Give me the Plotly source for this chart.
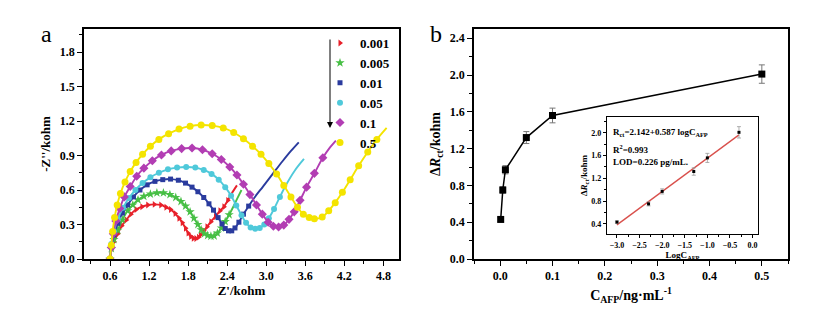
import numpy as np
import plotly.graph_objects as go

# ---------------- Panel a: Nyquist plots ----------------
conc_labels = ["0.001", "0.005", "0.01", "0.05", "0.1", "0.5"]

z_re_0001 = [0.60, 0.62, 0.66, 0.72, 0.78, 0.85, 0.92, 1.00, 1.09, 1.18, 1.28, 1.38, 1.46, 1.53, 1.60, 1.66,
             1.71, 1.76, 1.80, 1.84, 1.88, 1.92, 1.96, 1.99, 2.04, 2.09, 2.15, 2.22, 2.29, 2.35, 2.41, 2.47, 2.55]
z_im_0001 = [0.00, 0.08, 0.15, 0.22, 0.29, 0.34, 0.39, 0.43, 0.455, 0.47, 0.475, 0.47, 0.45, 0.43, 0.395, 0.355,
             0.315, 0.267, 0.225, 0.195, 0.18, 0.178, 0.19, 0.21, 0.245, 0.28, 0.325, 0.37, 0.42, 0.455, 0.51, 0.57, 0.64]

z_re_0005 = [0.60, 0.62, 0.66, 0.72, 0.79, 0.87, 0.95, 1.03, 1.12, 1.22, 1.32, 1.42, 1.52, 1.61, 1.69, 1.76,
             1.83, 1.89, 1.95, 2.00, 2.05, 2.10, 2.15, 2.20, 2.25, 2.31, 2.37, 2.43, 2.49, 2.55, 2.62]
z_im_0005 = [0.00, 0.09, 0.17, 0.25, 0.34, 0.42, 0.47, 0.515, 0.545, 0.565, 0.575, 0.575, 0.56, 0.535, 0.50, 0.46,
             0.41, 0.355, 0.30, 0.255, 0.22, 0.205, 0.198, 0.20, 0.225, 0.27, 0.325, 0.385, 0.45, 0.52, 0.60]

z_re_001 = [0.60, 0.62, 0.66, 0.72, 0.79, 0.87, 0.96, 1.06, 1.17, 1.29, 1.41, 1.53, 1.65, 1.76, 1.86, 1.95, 2.04,
            2.12, 2.19, 2.26, 2.32, 2.37, 2.42, 2.47, 2.52, 2.58, 2.65, 2.73, 2.82, 2.95, 3.10, 3.25, 3.38, 3.50]
z_im_001 = [0.00, 0.11, 0.21, 0.31, 0.40, 0.47, 0.54, 0.60, 0.645, 0.675, 0.69, 0.695, 0.685, 0.66, 0.625, 0.585,
            0.535, 0.48, 0.425, 0.36, 0.305, 0.265, 0.245, 0.245, 0.27, 0.32, 0.39, 0.46, 0.535, 0.63, 0.74, 0.85,
            0.94, 1.015]

z_re_005 = [0.60, 0.62, 0.66, 0.72, 0.80, 0.89, 0.99, 1.10, 1.22, 1.35, 1.49, 1.63, 1.77, 1.91, 2.04, 2.16, 2.27,
            2.37, 2.46, 2.54, 2.62, 2.69, 2.76, 2.83, 2.90, 2.97, 3.04, 3.12, 3.21, 3.31, 3.44, 3.58]
z_im_005 = [0.00, 0.13, 0.24, 0.35, 0.445, 0.53, 0.60, 0.66, 0.71, 0.75, 0.78, 0.795, 0.80, 0.795, 0.775, 0.74,
            0.69, 0.625, 0.55, 0.465, 0.38, 0.315, 0.275, 0.262, 0.27, 0.30, 0.355, 0.435, 0.54, 0.65, 0.77, 0.87]

z_re_01 = [0.60, 0.62, 0.65, 0.69, 0.75, 0.82, 0.91, 1.01, 1.12, 1.25, 1.39, 1.54, 1.70, 1.86, 2.02, 2.17, 2.31,
           2.44, 2.55, 2.65, 2.75, 2.85, 2.94, 3.03, 3.11, 3.19, 3.27, 3.35, 3.43, 3.52, 3.62, 3.74, 3.87, 3.98, 4.07]
z_im_01 = [0.00, 0.10, 0.22, 0.33, 0.44, 0.54, 0.63, 0.72, 0.79, 0.855, 0.905, 0.94, 0.96, 0.965, 0.95, 0.915,
           0.865, 0.80, 0.73, 0.65, 0.56, 0.47, 0.39, 0.32, 0.285, 0.278, 0.295, 0.345, 0.41, 0.51, 0.625, 0.745,
           0.88, 0.97, 1.03]

z_re_05 = [0.60, 0.62, 0.64, 0.67, 0.71, 0.76, 0.83, 0.91, 1.00, 1.10, 1.22, 1.35, 1.50, 1.66, 1.83, 2.00, 2.17,
           2.34, 2.50, 2.65, 2.79, 2.92, 3.04, 3.16, 3.27, 3.38, 3.48, 3.57, 3.66, 3.74, 3.86, 3.96, 4.06, 4.17,
           4.29, 4.42, 4.56, 4.70, 4.85]
z_im_05 = [0.00, 0.12, 0.24, 0.36, 0.47, 0.57, 0.67, 0.76, 0.84, 0.91, 0.98, 1.04, 1.09, 1.13, 1.155, 1.165, 1.16,
           1.14, 1.10, 1.045, 0.98, 0.91, 0.83, 0.74, 0.64, 0.54, 0.45, 0.39, 0.36, 0.35, 0.365, 0.42, 0.49, 0.58,
           0.69, 0.81, 0.93, 1.04, 1.14]

a_x_ticks = [0.6, 1.2, 1.8, 2.4, 3.0, 3.6, 4.2, 4.8]

# ---------------- Panel b: calibration ----------------
c_afp = [0.001, 0.005, 0.01, 0.05, 0.1, 0.5]
delta_rct = [0.43, 0.75, 0.97, 1.32, 1.56, 2.01]
delta_rct_err = [0.02, 0.035, 0.045, 0.065, 0.08, 0.10]
fit_intercept = 2.142
fit_slope = 0.587
r_squared = "0.993"
lod_text = "0.226 pg/mL."

# ---------------- styling ----------------
W, H = 814, 314
FONT = "Liberation Serif, Times New Roman, serif"
BOLD = dict(family=FONT, color="black", weight=700)


def px_x(p):
    return p / W


def px_y(p):
    return 1 - p / H


def b(s):
    return "<b>" + s + "</b>"


series_style = [
    ("#e8202a", "triangle-right", 6, 2.45),
    ("#47bf45", "star", 7, 2.45),
    ("#2a3b9e", "square", 5, 2.8),
    ("#4fc9da", "circle", 6, 3.25),
    ("#b23db3", "diamond", 7, 3.9),
    ("#f4e400", "circle", 7, 4.75),
]
series_data = [
    (z_re_0001, z_im_0001), (z_re_0005, z_im_0005), (z_re_001, z_im_001),
    (z_re_005, z_im_005), (z_re_01, z_im_01), (z_re_05, z_im_05),
]

fig = go.Figure()

for label, (zr, zi), (col, sym, msz, cut) in zip(conc_labels, series_data, series_style):
    zr = np.array(zr)
    zi = np.array(zi)
    fig.add_trace(go.Scatter(x=zr, y=zi, mode="lines", line=dict(color=col, width=1.9, shape="spline"),
                             showlegend=False, hoverinfo="skip", xaxis="x", yaxis="y"))
    m = zr <= cut
    fig.add_trace(go.Scatter(x=zr[m], y=zi[m], mode="markers", name=b(label),
                             marker=dict(color=col, symbol=sym, size=msz, line=dict(width=0)),
                             xaxis="x", yaxis="y"))

# panel b main
fig.add_trace(go.Scatter(x=c_afp, y=delta_rct, mode="lines+markers",
                         line=dict(color="black", width=1.5),
                         marker=dict(color="black", symbol="square", size=7),
                         error_y=dict(type="data", array=delta_rct_err, color="#777", thickness=1, width=3),
                         showlegend=False, xaxis="x2", yaxis="y2"))

# inset
log_c = np.log10(np.array(c_afp))
fit_x = np.array([log_c.min(), log_c.max()])
fit_y = fit_intercept + fit_slope * fit_x
fig.add_trace(go.Scatter(x=fit_x, y=fit_y, mode="lines", line=dict(color="#d9504c", width=1.3),
                         showlegend=False, xaxis="x3", yaxis="y3"))
fig.add_trace(go.Scatter(x=log_c, y=delta_rct, mode="markers",
                         marker=dict(color="black", symbol="square", size=3),
                         error_y=dict(type="data", array=delta_rct_err, color="#999", thickness=0.8, width=2),
                         showlegend=False, xaxis="x3", yaxis="y3"))

axis_common = dict(showline=True, mirror=True, linecolor="black", linewidth=1.5, showgrid=False,
                   zeroline=False, ticks="outside", tickcolor="black", tickwidth=1.3, ticklen=5,
                   automargin=False, tickprefix="<b>", ticksuffix="</b>")
tickfont = dict(BOLD, size=12)
titlefont = dict(BOLD, size=13)

small_axis = dict(showline=True, mirror=True, linecolor="black", linewidth=1.2, showgrid=False,
                  zeroline=False, ticks="outside", tickcolor="black", tickwidth=1, ticklen=3,
                  automargin=False, tickprefix="<b>", ticksuffix="</b>")
small_tick = dict(BOLD, size=8)

fig.update_layout(
    width=W, height=H, margin=dict(l=0, r=0, t=0, b=0, autoexpand=False),
    paper_bgcolor="white", plot_bgcolor="white",
    xaxis=dict(axis_common, domain=[px_x(84), px_x(399)], range=[0.2, 5.04], anchor="y",
               tickvals=a_x_ticks, tickformat=".1f", tickfont=tickfont,
               minor=dict(ticks="outside", ticklen=3, tickwidth=1, tickcolor="black", tick0=0.3, dtick=0.3),
               title=dict(text=b("Z'/kohm"), font=titlefont, standoff=4)),
    yaxis=dict(axis_common, domain=[px_y(259), px_y(29)], range=[0, 2.0], anchor="x",
               tick0=0, dtick=0.3, tickformat=".1f", tickfont=tickfont,
               minor=dict(ticks="outside", ticklen=3, tickwidth=1, tickcolor="black", tick0=0, dtick=0.15),
               title=dict(text=b("-Z''/kohm"), font=titlefont, standoff=6)),
    xaxis2=dict(axis_common, domain=[px_x(474), px_x(788)], range=[-0.05, 0.55], anchor="y2",
                tick0=0, dtick=0.1, tickformat=".1f", tickfont=tickfont,
                minor=dict(ticks="outside", ticklen=3, tickwidth=1, tickcolor="black", tick0=0, dtick=0.05),
                title=dict(text=b("C<sub>AFP</sub>/ng·mL<sup>-1</sup>"), font=dict(BOLD, size=14), standoff=8)),
    yaxis2=dict(axis_common, domain=[px_y(259), px_y(29)], range=[0, 2.5], anchor="x2",
                tick0=0, dtick=0.4, tickformat=".1f", tickfont=tickfont,
                minor=dict(ticks="outside", ticklen=3, tickwidth=1, tickcolor="black", tick0=0, dtick=0.2),
                title=dict(text=b("Δ<i>R</i><sub>ct</sub>/kohm"), font=dict(BOLD, size=14), standoff=6)),
    xaxis3=dict(small_axis, domain=[px_x(607), px_x(758)], range=[-3.22, 0.12], anchor="y3",
                tick0=0, dtick=0.5, tickformat=".1f", tickfont=small_tick,
                minor=dict(ticks="outside", ticklen=2, tickwidth=0.8, tickcolor="black", tick0=0, dtick=0.25),
                title=dict(text=b("LogC<sub>AFP</sub>"), font=dict(BOLD, size=9), standoff=2)),
    yaxis3=dict(small_axis, domain=[px_y(234), px_y(117)], range=[0.22, 2.28], anchor="x3",
                tick0=0, dtick=0.4, tickformat=".1f", tickfont=small_tick,
                minor=dict(ticks="outside", ticklen=2, tickwidth=0.8, tickcolor="black", tick0=0, dtick=0.2),
                title=dict(text=b("Δ<i>R</i><sub>ct</sub>/kohm"), font=dict(BOLD, size=9), standoff=2)),
    legend=dict(x=px_x(320), y=px_y(28), xanchor="left", yanchor="top", bgcolor="rgba(0,0,0,0)",
                font=dict(BOLD, size=13), itemwidth=30, tracegroupgap=0),
    showlegend=True,
)

annotations = [
    dict(text="a", x=px_x(46), y=px_y(34), xanchor="center", yanchor="middle",
         font=dict(family=FONT, size=24, color="black")),
    dict(text="b", x=px_x(436), y=px_y(34), xanchor="center", yanchor="middle",
         font=dict(family=FONT, size=24, color="black")),
    dict(text=b("R<sub>ct</sub>=%.3f+%.3f logC<sub>AFP</sub>" % (fit_intercept, fit_slope)),
         x=px_x(611), y=px_y(132), xanchor="left", yanchor="middle", font=dict(BOLD, size=9)),
    dict(text=b("R<sup>2</sup>=" + r_squared), x=px_x(611), y=px_y(149), xanchor="left", yanchor="middle",
         font=dict(BOLD, size=9)),
    dict(text=b("LOD=" + lod_text), x=px_x(611), y=px_y(162), xanchor="left", yanchor="middle",
         font=dict(BOLD, size=9)),
]
for a in annotations:
    a.update(xref="paper", yref="paper", showarrow=False)
annotations.append(dict(x=px_x(330), y=px_y(128), ax=0, ay=-90, xref="paper", yref="paper",
                        axref="pixel", ayref="pixel", showarrow=True, arrowhead=2, arrowsize=1.2,
                        arrowwidth=1, arrowcolor="black", text=""))
fig.update_layout(annotations=annotations)

fig.write_html("out.html", config={"displayModeBar": False},
               post_script="document.body.style.margin='0px';")
